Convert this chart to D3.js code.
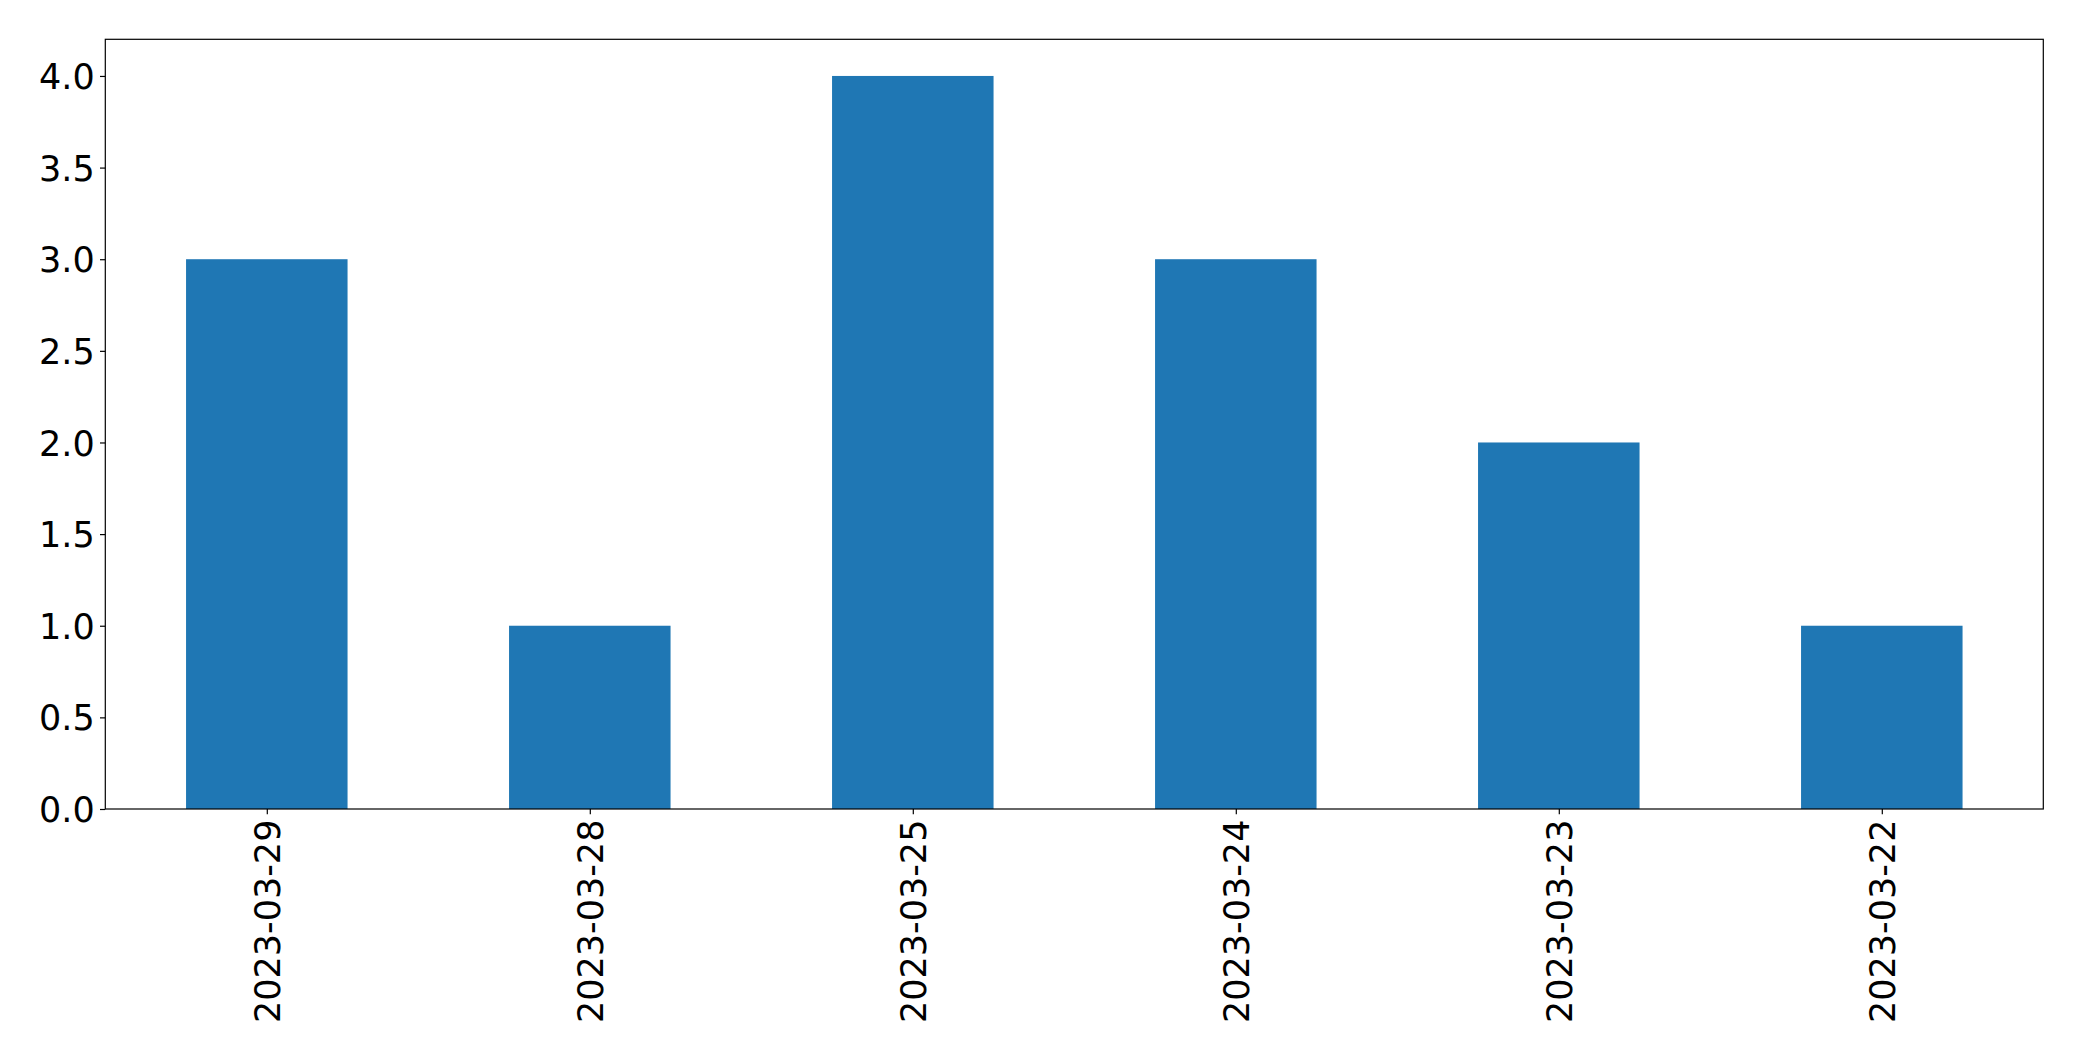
<!DOCTYPE html>
<html>
<head>
<meta charset="utf-8">
<script src="https://cdn.jsdelivr.net/npm/d3@7"></script>
<style>
html,body{margin:0;padding:0;background:#fff;}
svg{display:block;}
</style>
</head>
<body>
<svg id="chart" width="2082" height="1061"></svg>
<script>
const categories = ["2023-03-29","2023-03-28","2023-03-25","2023-03-24","2023-03-23","2023-03-22"];
const values = [3, 1, 4, 3, 2, 1];
const yTicks = [0.0, 0.5, 1.0, 1.5, 2.0, 2.5, 3.0, 3.5, 4.0];

const W = 2082, H = 1061;
const m = {left: 105.3, right: 2043.3, top: 39.3, bottom: 809};
const svg = d3.select("#chart");

const x = d3.scaleLinear().domain([-0.5, categories.length - 0.5]).range([m.left, m.right]);
const y = d3.scaleLinear().domain([0, 4.2]).range([m.bottom, m.top]);
const barW = x(0.25) - x(-0.25);

svg.append("g").selectAll("rect").data(values).join("rect")
  .attr("x", (d,i) => x(i) - barW/2)
  .attr("y", d => y(d))
  .attr("width", barW)
  .attr("height", d => y(0) - y(d))
  .attr("fill", "#1f77b4");

const font = "DejaVu Sans";
const fs = 35;
const tickLen = 5.3, pad = 5.3;

// Y axis
const yAxis = d3.axisLeft(y).tickValues(yTicks).tickFormat(d3.format(".1f")).tickSize(tickLen).tickPadding(pad);
const gy = svg.append("g").attr("transform", `translate(${m.left},0)`).call(yAxis);
gy.select(".domain").remove();
gy.selectAll("line").attr("stroke", "#000").attr("stroke-width", 1.2);
gy.selectAll("text").attr("font-family", font).attr("font-size", fs).attr("fill", "#000").attr("dy", "0.36em");

// X axis
const xAxis = d3.axisBottom(x).tickValues(d3.range(categories.length)).tickFormat(i => categories[i]).tickSize(tickLen).tickPadding(pad);
const gx = svg.append("g").attr("transform", `translate(0,${m.bottom})`).call(xAxis);
gx.select(".domain").remove();
gx.selectAll("line").attr("stroke", "#000").attr("stroke-width", 1.2);
gx.selectAll("text")
  .attr("font-family", font).attr("font-size", fs).attr("fill", "#000")
  .attr("text-anchor", "end")
  .attr("y", 0).attr("x", 0).attr("dy", "0.36em")
  .attr("transform", `translate(0,${tickLen + pad}) rotate(-90)`)
  .attr("dx", "0");

// Frame
svg.append("rect")
  .attr("x", m.left).attr("y", m.top)
  .attr("width", m.right - m.left).attr("height", m.bottom - m.top)
  .attr("fill", "none").attr("stroke", "#000").attr("stroke-width", 1.2);
</script>
</body>
</html>
